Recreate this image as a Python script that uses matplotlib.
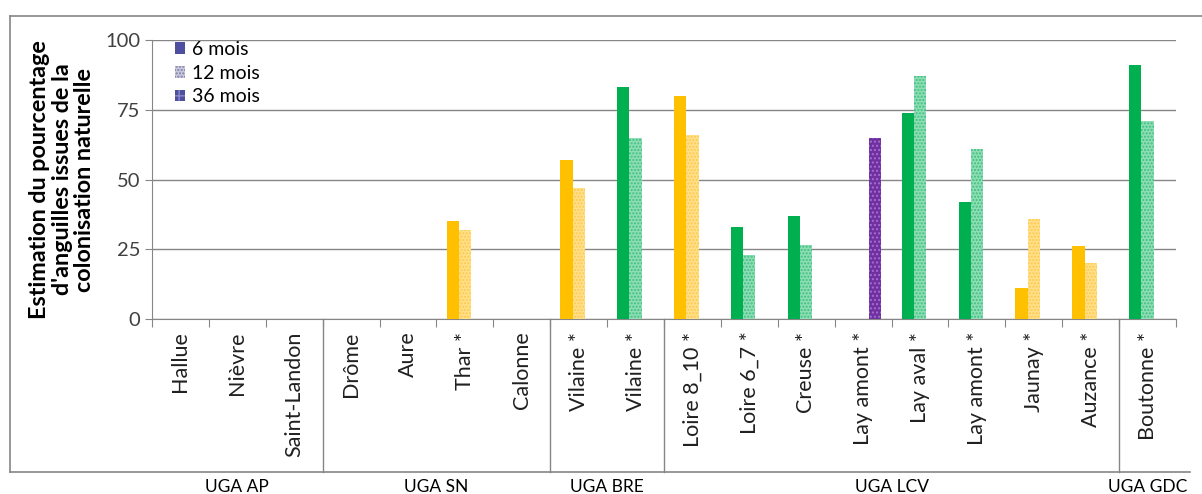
import numpy as np
import matplotlib
matplotlib.use('Agg')
import matplotlib.pyplot as plt
from matplotlib.patches import Patch
import matplotlib.transforms as mtransforms

plt.rcParams['font.family'] = ['Lato', 'DejaVu Sans']
plt.rcParams['hatch.linewidth'] = 1.0

stations = ['Hallue', 'Nièvre', 'Saint-Landon', 'Drôme', 'Aure', 'Thar *', 'Calonne',
            'Vilaine *', 'Vilaine *', 'Loire 8_10 *', 'Loire 6_7 *', 'Creuse *',
            'Lay amont *', 'Lay aval *', 'Lay amont *', 'Jaunay *', 'Auzance *', 'Boutonne *']
mois_6 = [0, 0, 0, 0, 0, 35, 0, 57, 83, 80, 33, 37, 0, 74, 42, 11, 26, 91]
mois_12 = [0, 0, 0, 0, 0, 32, 0, 47, 65, 66, 23, 26.5, 0, 87, 61, 36, 20, 71]
mois_36 = [0, 0, 0, 0, 0, 0, 0, 0, 0, 0, 0, 0, 65, 0, 0, 0, 0, 0]
# colour family of each station (o = orange, g = green)
famille = ['o', 'o', 'o', 'o', 'o', 'o', 'o', 'o', 'g', 'o', 'g', 'g',
           'g', 'g', 'g', 'o', 'o', 'g']
groupes = ['UGA AP', 'UGA SN', 'UGA BRE', 'UGA LCV', 'UGA GDC']
groupe_taille = [3, 4, 2, 8, 1]

fonce = {'o': '#FFC000', 'g': '#00B050'}
clair = {'o': '#FFE08A', 'g': '#8FDDB5'}
trame = {'o': '#FFC84A', 'g': '#3CC07F'}

fig = plt.figure(figsize=(12.02, 4.94), dpi=100)
ax = fig.add_axes([152 / 1202, 1 - 319 / 494, (1176 - 152) / 1202, (319 - 40) / 494])

x = np.arange(len(stations)) + 0.5
w = 0.215
for i in range(len(stations)):
    f = famille[i]
    if mois_6[i] > 0:
        ax.bar(x[i] - w, mois_6[i], w, color=fonce[f], linewidth=0, zorder=3)
    if mois_12[i] > 0:
        ax.bar(x[i], mois_12[i], w, facecolor=clair[f], edgecolor=trame[f],
               hatch='.....', linewidth=0, zorder=3)
    if mois_36[i] > 0:
        ax.bar(x[i] + w, mois_36[i], w, facecolor='#7030A0', edgecolor='#A070D0',
               hatch='....', linewidth=0, zorder=3)

ax.set_xlim(0, len(stations))
ax.set_ylim(0, 100)
ax.set_yticks([0, 25, 50, 75, 100])
ax.yaxis.grid(True, color='#868686', linewidth=1)
ax.set_axisbelow(True)
for s in ['top', 'right']:
    ax.spines[s].set_visible(False)
ax.spines['left'].set_color('#868686')
ax.spines['bottom'].set_color('#868686')
ax.tick_params(axis='y', colors='#868686', labelcolor='#404040', labelsize=14.5, length=5)

ax.set_xticks(np.arange(len(stations) + 1))
ax.set_xticklabels([])
ax.tick_params(axis='x', which='major', colors='#868686', length=6)
ax.set_xticks(x, minor=True)
ax.set_xticklabels(stations, minor=True, rotation=90, fontsize=15.5, color='#202020')
ax.tick_params(axis='x', which='minor', length=0, pad=9)

ax.set_ylabel("Estimation du pourcentage\nd'anguilles issues de la\ncolonisation naturelle",
              fontsize=16.8, fontweight='bold', labelpad=7, linespacing=1.1)

# group separators and labels
trans = mtransforms.blended_transform_factory(ax.transData, fig.transFigure)
bas = 1 - 472 / 494
debut = 0
for g, n in zip(groupes, groupe_taille):
    fin = debut + n
    if fin < len(stations):
        ax.plot([fin, fin], [1 - 319 / 494, bas], transform=trans, color='#868686',
                linewidth=1, clip_on=False)
    fig.text((debut + fin) / 2, 1 - 487 / 494, g, transform=trans, fontsize=12.5,
             ha='center', va='center')
    debut = fin

# chart border
fig.add_artist(plt.Line2D([10 / 1202, 1], [1 - 16 / 494, 1 - 16 / 494], color='#868686', linewidth=1.2))
fig.add_artist(plt.Line2D([10 / 1202, 10 / 1202], [1 - 16 / 494, bas], color='#868686', linewidth=1.2))
fig.add_artist(plt.Line2D([10 / 1202, 1190 / 1202], [bas, bas], color='#868686', linewidth=1.2))

handles = [Patch(facecolor='#4F4F9F', linewidth=0),
           Patch(facecolor='#C8C8DC', edgecolor='#8080A8', hatch='.....', linewidth=0),
           Patch(facecolor='#4F4F9F', edgecolor='#8A8AC8', hatch='++', linewidth=0)]
ax.legend(handles, ['6 mois', '12 mois', '36 mois'], loc='upper left',
          bbox_to_anchor=(0.005, 1.06), frameon=False, fontsize=14,
          handlelength=0.55, handleheight=0.55, handletextpad=0.35, labelspacing=0.35)

fig.savefig('out.png', dpi=100)
